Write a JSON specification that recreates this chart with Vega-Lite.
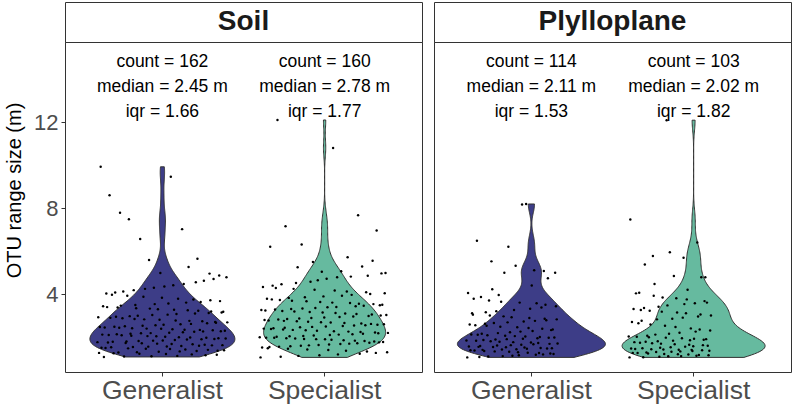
{
  "$schema": "https://vega.github.io/schema/vega-lite/v6.json",
  "padding": {"left": 4, "top": 1, "right": 2, "bottom": 2},
  "background": "white",
  "config": {
    "font": "Liberation Sans",
    "view": {"stroke": "#333333", "strokeWidth": 1},
    "axis": {"grid": false, "domain": false, "tickColor": "#333333", "tickSize": 4, "tickWidth": 1, "labelColor": "#4d4d4d", "titleColor": "#000000", "titleFontWeight": "normal", "labelFontSize": 22, "titleFontSize": 20},
    "axisX": {"labelFontSize": 26.5, "labelPadding": 1, "labelAngle": 0},
    "axisY": {"labelPadding": 3, "titlePadding": 9, "titleY": 148}
  },
  "datasets": {
    "stats": [
      {"habitat": "Soil", "type": "Generalist", "label": "count = 162\nmedian = 2.45 m\niqr = 1.66"},
      {"habitat": "Soil", "type": "Specialist", "label": "count = 160\nmedian = 2.78 m\niqr = 1.77"},
      {"habitat": "Plylloplane", "type": "Generalist", "label": "count = 114\nmedian = 2.11 m\niqr = 1.53"},
      {"habitat": "Plylloplane", "type": "Specialist", "label": "count = 103\nmedian = 2.02 m\niqr = 1.82"}
    ],
    "otu": [
      {"habitat":"Soil","type":"Generalist","size":1.76},{"habitat":"Soil","type":"Generalist","size":2.92},{"habitat":"Soil","type":"Generalist","size":1.26},{"habitat":"Soil","type":"Generalist","size":2.46},{"habitat":"Soil","type":"Generalist","size":9.92},{"habitat":"Soil","type":"Generalist","size":1.50},{"habitat":"Soil","type":"Generalist","size":2.11},{"habitat":"Soil","type":"Generalist","size":3.43},{"habitat":"Soil","type":"Generalist","size":1.07},
      {"habitat":"Soil","type":"Generalist","size":2.44},{"habitat":"Soil","type":"Generalist","size":1.49},{"habitat":"Soil","type":"Generalist","size":4.02},{"habitat":"Soil","type":"Generalist","size":3.39},{"habitat":"Soil","type":"Generalist","size":1.74},{"habitat":"Soil","type":"Generalist","size":2.09},{"habitat":"Soil","type":"Generalist","size":8.60},{"habitat":"Soil","type":"Generalist","size":2.89},
      {"habitat":"Soil","type":"Generalist","size":1.52},{"habitat":"Soil","type":"Generalist","size":3.97},{"habitat":"Soil","type":"Generalist","size":1.78},{"habitat":"Soil","type":"Generalist","size":1.24},{"habitat":"Soil","type":"Generalist","size":2.48},{"habitat":"Soil","type":"Generalist","size":4.07},{"habitat":"Soil","type":"Generalist","size":2.94},{"habitat":"Soil","type":"Generalist","size":2.13},
      {"habitat":"Soil","type":"Generalist","size":3.37},{"habitat":"Soil","type":"Generalist","size":1.28},{"habitat":"Soil","type":"Generalist","size":2.43},{"habitat":"Soil","type":"Generalist","size":7.78},{"habitat":"Soil","type":"Generalist","size":3.46},{"habitat":"Soil","type":"Generalist","size":2.08},{"habitat":"Soil","type":"Generalist","size":2.87},
      {"habitat":"Soil","type":"Generalist","size":4.12},{"habitat":"Soil","type":"Generalist","size":1.09},{"habitat":"Soil","type":"Generalist","size":2.50},{"habitat":"Soil","type":"Generalist","size":1.72},{"habitat":"Soil","type":"Generalist","size":1.79},{"habitat":"Soil","type":"Generalist","size":3.92},{"habitat":"Soil","type":"Generalist","size":1.47},{"habitat":"Soil","type":"Generalist","size":7.48},{"habitat":"Soil","type":"Generalist","size":2.97},{"habitat":"Soil","type":"Generalist","size":2.15},
      {"habitat":"Soil","type":"Generalist","size":2.06},{"habitat":"Soil","type":"Generalist","size":2.41},{"habitat":"Soil","type":"Generalist","size":1.53},{"habitat":"Soil","type":"Generalist","size":4.18},{"habitat":"Soil","type":"Generalist","size":2.84},{"habitat":"Soil","type":"Generalist","size":3.49},{"habitat":"Soil","type":"Generalist","size":3.34},
      {"habitat":"Soil","type":"Generalist","size":1.29},{"habitat":"Soil","type":"Generalist","size":2.99},{"habitat":"Soil","type":"Generalist","size":1.81},{"habitat":"Soil","type":"Generalist","size":1.22},{"habitat":"Soil","type":"Generalist","size":6.56},{"habitat":"Soil","type":"Generalist","size":2.17},{"habitat":"Soil","type":"Generalist","size":1.71},{"habitat":"Soil","type":"Generalist","size":2.52},
      {"habitat":"Soil","type":"Generalist","size":3.87},{"habitat":"Soil","type":"Generalist","size":2.82},{"habitat":"Soil","type":"Generalist","size":4.24},{"habitat":"Soil","type":"Generalist","size":1.45},{"habitat":"Soil","type":"Generalist","size":2.39},{"habitat":"Soil","type":"Generalist","size":2.04},{"habitat":"Soil","type":"Generalist","size":1.55},{"habitat":"Soil","type":"Generalist","size":5.58},{"habitat":"Soil","type":"Generalist","size":3.32},
      {"habitat":"Soil","type":"Generalist","size":2.18},{"habitat":"Soil","type":"Generalist","size":1.10},{"habitat":"Soil","type":"Generalist","size":3.02},{"habitat":"Soil","type":"Generalist","size":1.83},{"habitat":"Soil","type":"Generalist","size":4.29},{"habitat":"Soil","type":"Generalist","size":3.53},{"habitat":"Soil","type":"Generalist","size":2.55},
      {"habitat":"Soil","type":"Generalist","size":2.03},{"habitat":"Soil","type":"Generalist","size":1.69},{"habitat":"Soil","type":"Generalist","size":3.29},{"habitat":"Soil","type":"Generalist","size":1.31},{"habitat":"Soil","type":"Generalist","size":2.80},{"habitat":"Soil","type":"Generalist","size":4.98},{"habitat":"Soil","type":"Generalist","size":2.38},{"habitat":"Soil","type":"Generalist","size":3.83},{"habitat":"Soil","type":"Generalist","size":1.84},
      {"habitat":"Soil","type":"Generalist","size":2.57},{"habitat":"Soil","type":"Generalist","size":4.35},{"habitat":"Soil","type":"Generalist","size":2.01},{"habitat":"Soil","type":"Generalist","size":1.21},{"habitat":"Soil","type":"Generalist","size":1.56},{"habitat":"Soil","type":"Generalist","size":3.04},{"habitat":"Soil","type":"Generalist","size":3.56},{"habitat":"Soil","type":"Generalist","size":2.20},{"habitat":"Soil","type":"Generalist","size":1.44},{"habitat":"Soil","type":"Generalist","size":9.46},
      {"habitat":"Soil","type":"Generalist","size":1.67},{"habitat":"Soil","type":"Generalist","size":2.36},{"habitat":"Soil","type":"Generalist","size":4.41},{"habitat":"Soil","type":"Generalist","size":3.27},{"habitat":"Soil","type":"Generalist","size":1.86},{"habitat":"Soil","type":"Generalist","size":2.77},
      {"habitat":"Soil","type":"Generalist","size":3.07},{"habitat":"Soil","type":"Generalist","size":1.12},{"habitat":"Soil","type":"Generalist","size":3.78},{"habitat":"Soil","type":"Generalist","size":1.99},{"habitat":"Soil","type":"Generalist","size":1.33},{"habitat":"Soil","type":"Generalist","size":2.59},{"habitat":"Soil","type":"Generalist","size":1.58},{"habitat":"Soil","type":"Generalist","size":7.02},{"habitat":"Soil","type":"Generalist","size":2.22},
      {"habitat":"Soil","type":"Generalist","size":4.47},{"habitat":"Soil","type":"Generalist","size":2.34},{"habitat":"Soil","type":"Generalist","size":1.42},{"habitat":"Soil","type":"Generalist","size":3.60},{"habitat":"Soil","type":"Generalist","size":1.88},{"habitat":"Soil","type":"Generalist","size":3.24},{"habitat":"Soil","type":"Generalist","size":5.26},{"habitat":"Soil","type":"Generalist","size":2.75},
      {"habitat":"Soil","type":"Generalist","size":1.98},{"habitat":"Soil","type":"Generalist","size":2.61},{"habitat":"Soil","type":"Generalist","size":1.19},{"habitat":"Soil","type":"Generalist","size":1.66},{"habitat":"Soil","type":"Generalist","size":3.74},{"habitat":"Soil","type":"Generalist","size":2.24},{"habitat":"Soil","type":"Generalist","size":3.09},{"habitat":"Soil","type":"Generalist","size":4.55},
      {"habitat":"Soil","type":"Generalist","size":1.35},{"habitat":"Soil","type":"Generalist","size":5.64},{"habitat":"Soil","type":"Generalist","size":3.22},{"habitat":"Soil","type":"Generalist","size":1.59},{"habitat":"Soil","type":"Generalist","size":2.33},{"habitat":"Soil","type":"Generalist","size":3.63},{"habitat":"Soil","type":"Generalist","size":1.89},{"habitat":"Soil","type":"Generalist","size":2.73},
      {"habitat":"Soil","type":"Generalist","size":2.26},{"habitat":"Soil","type":"Generalist","size":4.62},{"habitat":"Soil","type":"Generalist","size":1.64},{"habitat":"Soil","type":"Generalist","size":1.15},{"habitat":"Soil","type":"Generalist","size":1.96},{"habitat":"Soil","type":"Generalist","size":2.64},{"habitat":"Soil","type":"Generalist","size":1.40},{"habitat":"Soil","type":"Generalist","size":3.12},{"habitat":"Soil","type":"Generalist","size":4.95},
      {"habitat":"Soil","type":"Generalist","size":3.71},{"habitat":"Soil","type":"Generalist","size":3.19},{"habitat":"Soil","type":"Generalist","size":1.61},{"habitat":"Soil","type":"Generalist","size":2.31},{"habitat":"Soil","type":"Generalist","size":4.70},{"habitat":"Soil","type":"Generalist","size":1.91},{"habitat":"Soil","type":"Generalist","size":2.70},
      {"habitat":"Soil","type":"Generalist","size":2.66},{"habitat":"Soil","type":"Generalist","size":1.17},{"habitat":"Soil","type":"Generalist","size":1.36},{"habitat":"Soil","type":"Generalist","size":1.94},{"habitat":"Soil","type":"Generalist","size":4.86},{"habitat":"Soil","type":"Generalist","size":3.67},{"habitat":"Soil","type":"Generalist","size":2.27},{"habitat":"Soil","type":"Generalist","size":3.14},
      {"habitat":"Soil","type":"Generalist","size":1.62},{"habitat":"Soil","type":"Generalist","size":3.17},{"habitat":"Soil","type":"Generalist","size":1.38},{"habitat":"Soil","type":"Generalist","size":2.29},{"habitat":"Soil","type":"Generalist","size":1.93},{"habitat":"Soil","type":"Generalist","size":4.78},{"habitat":"Soil","type":"Generalist","size":2.68},

      {"habitat":"Soil","type":"Specialist","size":1.99},{"habitat":"Soil","type":"Specialist","size":1.05},{"habitat":"Soil","type":"Specialist","size":3.26},{"habitat":"Soil","type":"Specialist","size":1.51},{"habitat":"Soil","type":"Specialist","size":4.33},{"habitat":"Soil","type":"Specialist","size":2.39},{"habitat":"Soil","type":"Specialist","size":2.79},
      {"habitat":"Soil","type":"Specialist","size":3.23},{"habitat":"Soil","type":"Specialist","size":1.97},{"habitat":"Soil","type":"Specialist","size":3.78},{"habitat":"Soil","type":"Specialist","size":1.48},{"habitat":"Soil","type":"Specialist","size":2.77},{"habitat":"Soil","type":"Specialist","size":1.53},{"habitat":"Soil","type":"Specialist","size":6.20},{"habitat":"Soil","type":"Specialist","size":2.37},{"habitat":"Soil","type":"Specialist","size":3.75},
      {"habitat":"Soil","type":"Specialist","size":4.39},{"habitat":"Soil","type":"Specialist","size":2.41},{"habitat":"Soil","type":"Specialist","size":1.96},{"habitat":"Soil","type":"Specialist","size":3.28},{"habitat":"Soil","type":"Specialist","size":4.28},{"habitat":"Soil","type":"Specialist","size":2.01},{"habitat":"Soil","type":"Specialist","size":12.10},{"habitat":"Soil","type":"Specialist","size":2.81},
      {"habitat":"Soil","type":"Specialist","size":1.55},{"habitat":"Soil","type":"Specialist","size":3.72},{"habitat":"Soil","type":"Specialist","size":1.08},{"habitat":"Soil","type":"Specialist","size":4.45},{"habitat":"Soil","type":"Specialist","size":3.21},{"habitat":"Soil","type":"Specialist","size":2.35},{"habitat":"Soil","type":"Specialist","size":2.75},
      {"habitat":"Soil","type":"Specialist","size":2.43},{"habitat":"Soil","type":"Specialist","size":7.15},{"habitat":"Soil","type":"Specialist","size":1.94},{"habitat":"Soil","type":"Specialist","size":2.84},{"habitat":"Soil","type":"Specialist","size":1.45},{"habitat":"Soil","type":"Specialist","size":3.82},{"habitat":"Soil","type":"Specialist","size":2.03},{"habitat":"Soil","type":"Specialist","size":1.57},{"habitat":"Soil","type":"Specialist","size":3.30},
      {"habitat":"Soil","type":"Specialist","size":3.69},{"habitat":"Soil","type":"Specialist","size":2.33},{"habitat":"Soil","type":"Specialist","size":4.24},{"habitat":"Soil","type":"Specialist","size":3.19},{"habitat":"Soil","type":"Specialist","size":1.93},{"habitat":"Soil","type":"Specialist","size":4.51},{"habitat":"Soil","type":"Specialist","size":2.73},
      {"habitat":"Soil","type":"Specialist","size":5.25},{"habitat":"Soil","type":"Specialist","size":1.12},{"habitat":"Soil","type":"Specialist","size":2.86},{"habitat":"Soil","type":"Specialist","size":2.45},{"habitat":"Soil","type":"Specialist","size":1.59},{"habitat":"Soil","type":"Specialist","size":6.30},{"habitat":"Soil","type":"Specialist","size":3.33},{"habitat":"Soil","type":"Specialist","size":2.05},
      {"habitat":"Soil","type":"Specialist","size":1.91},{"habitat":"Soil","type":"Specialist","size":3.85},{"habitat":"Soil","type":"Specialist","size":2.31},{"habitat":"Soil","type":"Specialist","size":3.66},{"habitat":"Soil","type":"Specialist","size":1.42},{"habitat":"Soil","type":"Specialist","size":2.71},{"habitat":"Soil","type":"Specialist","size":1.61},{"habitat":"Soil","type":"Specialist","size":3.16},{"habitat":"Soil","type":"Specialist","size":4.57},
      {"habitat":"Soil","type":"Specialist","size":2.88},{"habitat":"Soil","type":"Specialist","size":2.47},{"habitat":"Soil","type":"Specialist","size":5.49},{"habitat":"Soil","type":"Specialist","size":2.07},{"habitat":"Soil","type":"Specialist","size":4.20},{"habitat":"Soil","type":"Specialist","size":3.35},{"habitat":"Soil","type":"Specialist","size":1.90},
      {"habitat":"Soil","type":"Specialist","size":2.29},{"habitat":"Soil","type":"Specialist","size":4.64},{"habitat":"Soil","type":"Specialist","size":1.63},{"habitat":"Soil","type":"Specialist","size":1.15},{"habitat":"Soil","type":"Specialist","size":3.63},{"habitat":"Soil","type":"Specialist","size":2.69},{"habitat":"Soil","type":"Specialist","size":5.04},{"habitat":"Soil","type":"Specialist","size":3.14},
      {"habitat":"Soil","type":"Specialist","size":3.89},{"habitat":"Soil","type":"Specialist","size":2.91},{"habitat":"Soil","type":"Specialist","size":1.89},{"habitat":"Soil","type":"Specialist","size":2.49},{"habitat":"Soil","type":"Specialist","size":4.71},{"habitat":"Soil","type":"Specialist","size":3.38},{"habitat":"Soil","type":"Specialist","size":1.39},{"habitat":"Soil","type":"Specialist","size":1.65},{"habitat":"Soil","type":"Specialist","size":2.09},
      {"habitat":"Soil","type":"Specialist","size":2.67},{"habitat":"Soil","type":"Specialist","size":1.87},{"habitat":"Soil","type":"Specialist","size":3.60},{"habitat":"Soil","type":"Specialist","size":10.80},{"habitat":"Soil","type":"Specialist","size":2.27},{"habitat":"Soil","type":"Specialist","size":4.16},{"habitat":"Soil","type":"Specialist","size":3.12},
      {"habitat":"Soil","type":"Specialist","size":3.40},{"habitat":"Soil","type":"Specialist","size":4.78},{"habitat":"Soil","type":"Specialist","size":1.19},{"habitat":"Soil","type":"Specialist","size":2.11},{"habitat":"Soil","type":"Specialist","size":2.93},{"habitat":"Soil","type":"Specialist","size":1.67},{"habitat":"Soil","type":"Specialist","size":5.06},{"habitat":"Soil","type":"Specialist","size":3.92},{"habitat":"Soil","type":"Specialist","size":2.51},
      {"habitat":"Soil","type":"Specialist","size":1.85},{"habitat":"Soil","type":"Specialist","size":2.65},{"habitat":"Soil","type":"Specialist","size":3.09},{"habitat":"Soil","type":"Specialist","size":1.36},{"habitat":"Soil","type":"Specialist","size":4.12},{"habitat":"Soil","type":"Specialist","size":5.71},{"habitat":"Soil","type":"Specialist","size":2.25},{"habitat":"Soil","type":"Specialist","size":1.69},{"habitat":"Soil","type":"Specialist","size":3.58},
      {"habitat":"Soil","type":"Specialist","size":4.81},{"habitat":"Soil","type":"Specialist","size":3.96},{"habitat":"Soil","type":"Specialist","size":2.13},{"habitat":"Soil","type":"Specialist","size":2.95},{"habitat":"Soil","type":"Specialist","size":2.53},{"habitat":"Soil","type":"Specialist","size":1.83},{"habitat":"Soil","type":"Specialist","size":3.43},
      {"habitat":"Soil","type":"Specialist","size":3.07},{"habitat":"Soil","type":"Specialist","size":1.71},{"habitat":"Soil","type":"Specialist","size":7.67},{"habitat":"Soil","type":"Specialist","size":3.55},{"habitat":"Soil","type":"Specialist","size":1.22},{"habitat":"Soil","type":"Specialist","size":2.23},{"habitat":"Soil","type":"Specialist","size":2.63},{"habitat":"Soil","type":"Specialist","size":5.28},
      {"habitat":"Soil","type":"Specialist","size":2.15},{"habitat":"Soil","type":"Specialist","size":3.45},{"habitat":"Soil","type":"Specialist","size":1.81},{"habitat":"Soil","type":"Specialist","size":2.55},{"habitat":"Soil","type":"Specialist","size":4.08},{"habitat":"Soil","type":"Specialist","size":1.32},{"habitat":"Soil","type":"Specialist","size":4.85},{"habitat":"Soil","type":"Specialist","size":2.98},{"habitat":"Soil","type":"Specialist","size":1.73},
      {"habitat":"Soil","type":"Specialist","size":4.00},{"habitat":"Soil","type":"Specialist","size":2.61},{"habitat":"Soil","type":"Specialist","size":3.05},{"habitat":"Soil","type":"Specialist","size":5.55},{"habitat":"Soil","type":"Specialist","size":3.53},{"habitat":"Soil","type":"Specialist","size":1.79},{"habitat":"Soil","type":"Specialist","size":2.21},
      {"habitat":"Soil","type":"Specialist","size":1.26},{"habitat":"Soil","type":"Specialist","size":6.96},{"habitat":"Soil","type":"Specialist","size":2.57},{"habitat":"Soil","type":"Specialist","size":2.17},{"habitat":"Soil","type":"Specialist","size":1.75},{"habitat":"Soil","type":"Specialist","size":3.48},{"habitat":"Soil","type":"Specialist","size":3.00},{"habitat":"Soil","type":"Specialist","size":4.96},
      {"habitat":"Soil","type":"Specialist","size":3.50},{"habitat":"Soil","type":"Specialist","size":1.77},{"habitat":"Soil","type":"Specialist","size":2.59},{"habitat":"Soil","type":"Specialist","size":4.04},{"habitat":"Soil","type":"Specialist","size":4.98},{"habitat":"Soil","type":"Specialist","size":3.02},{"habitat":"Soil","type":"Specialist","size":1.29},{"habitat":"Soil","type":"Specialist","size":2.19},

      {"habitat":"Plylloplane","type":"Generalist","size":1.84},{"habitat":"Plylloplane","type":"Generalist","size":1.05},{"habitat":"Plylloplane","type":"Generalist","size":4.05},{"habitat":"Plylloplane","type":"Generalist","size":1.56},{"habitat":"Plylloplane","type":"Generalist","size":2.58},{"habitat":"Plylloplane","type":"Generalist","size":1.38},{"habitat":"Plylloplane","type":"Generalist","size":2.12},{"habitat":"Plylloplane","type":"Generalist","size":3.10},
      {"habitat":"Plylloplane","type":"Generalist","size":3.04},{"habitat":"Plylloplane","type":"Generalist","size":3.78},{"habitat":"Plylloplane","type":"Generalist","size":1.37},{"habitat":"Plylloplane","type":"Generalist","size":2.55},{"habitat":"Plylloplane","type":"Generalist","size":1.82},{"habitat":"Plylloplane","type":"Generalist","size":6.48},{"habitat":"Plylloplane","type":"Generalist","size":2.10},{"habitat":"Plylloplane","type":"Generalist","size":1.54},
      {"habitat":"Plylloplane","type":"Generalist","size":1.07},{"habitat":"Plylloplane","type":"Generalist","size":1.58},{"habitat":"Plylloplane","type":"Generalist","size":3.86},{"habitat":"Plylloplane","type":"Generalist","size":2.15},{"habitat":"Plylloplane","type":"Generalist","size":1.40},{"habitat":"Plylloplane","type":"Generalist","size":1.86},{"habitat":"Plylloplane","type":"Generalist","size":1.35},{"habitat":"Plylloplane","type":"Generalist","size":2.62},{"habitat":"Plylloplane","type":"Generalist","size":3.15},
      {"habitat":"Plylloplane","type":"Generalist","size":2.52},{"habitat":"Plylloplane","type":"Generalist","size":2.08},{"habitat":"Plylloplane","type":"Generalist","size":1.09},{"habitat":"Plylloplane","type":"Generalist","size":3.70},{"habitat":"Plylloplane","type":"Generalist","size":3.00},{"habitat":"Plylloplane","type":"Generalist","size":1.80},{"habitat":"Plylloplane","type":"Generalist","size":5.52},
      {"habitat":"Plylloplane","type":"Generalist","size":4.22},{"habitat":"Plylloplane","type":"Generalist","size":1.53},{"habitat":"Plylloplane","type":"Generalist","size":2.65},{"habitat":"Plylloplane","type":"Generalist","size":1.33},{"habitat":"Plylloplane","type":"Generalist","size":1.88},{"habitat":"Plylloplane","type":"Generalist","size":3.20},{"habitat":"Plylloplane","type":"Generalist","size":1.60},{"habitat":"Plylloplane","type":"Generalist","size":2.18},{"habitat":"Plylloplane","type":"Generalist","size":3.95},
      {"habitat":"Plylloplane","type":"Generalist","size":1.78},{"habitat":"Plylloplane","type":"Generalist","size":2.48},{"habitat":"Plylloplane","type":"Generalist","size":3.64},{"habitat":"Plylloplane","type":"Generalist","size":1.42},{"habitat":"Plylloplane","type":"Generalist","size":1.11},{"habitat":"Plylloplane","type":"Generalist","size":2.96},{"habitat":"Plylloplane","type":"Generalist","size":4.99},{"habitat":"Plylloplane","type":"Generalist","size":2.06},
      {"habitat":"Plylloplane","type":"Generalist","size":1.52},{"habitat":"Plylloplane","type":"Generalist","size":1.90},{"habitat":"Plylloplane","type":"Generalist","size":2.68},{"habitat":"Plylloplane","type":"Generalist","size":6.20},{"habitat":"Plylloplane","type":"Generalist","size":1.31},{"habitat":"Plylloplane","type":"Generalist","size":2.22},{"habitat":"Plylloplane","type":"Generalist","size":1.62},
      {"habitat":"Plylloplane","type":"Generalist","size":2.92},{"habitat":"Plylloplane","type":"Generalist","size":1.13},{"habitat":"Plylloplane","type":"Generalist","size":1.76},{"habitat":"Plylloplane","type":"Generalist","size":3.26},{"habitat":"Plylloplane","type":"Generalist","size":2.04},{"habitat":"Plylloplane","type":"Generalist","size":5.32},{"habitat":"Plylloplane","type":"Generalist","size":1.43},{"habitat":"Plylloplane","type":"Generalist","size":2.45},{"habitat":"Plylloplane","type":"Generalist","size":1.29},
      {"habitat":"Plylloplane","type":"Generalist","size":1.15},{"habitat":"Plylloplane","type":"Generalist","size":3.60},{"habitat":"Plylloplane","type":"Generalist","size":2.25},{"habitat":"Plylloplane","type":"Generalist","size":1.64},{"habitat":"Plylloplane","type":"Generalist","size":8.17},{"habitat":"Plylloplane","type":"Generalist","size":1.92},{"habitat":"Plylloplane","type":"Generalist","size":2.72},{"habitat":"Plylloplane","type":"Generalist","size":1.51},
      {"habitat":"Plylloplane","type":"Generalist","size":2.02},{"habitat":"Plylloplane","type":"Generalist","size":8.19},{"habitat":"Plylloplane","type":"Generalist","size":1.45},{"habitat":"Plylloplane","type":"Generalist","size":1.27},{"habitat":"Plylloplane","type":"Generalist","size":2.42},{"habitat":"Plylloplane","type":"Generalist","size":2.88},{"habitat":"Plylloplane","type":"Generalist","size":3.31},{"habitat":"Plylloplane","type":"Generalist","size":1.74},{"habitat":"Plylloplane","type":"Generalist","size":4.40},
      {"habitat":"Plylloplane","type":"Generalist","size":2.28},{"habitat":"Plylloplane","type":"Generalist","size":1.66},{"habitat":"Plylloplane","type":"Generalist","size":5.11},{"habitat":"Plylloplane","type":"Generalist","size":2.75},{"habitat":"Plylloplane","type":"Generalist","size":1.17},{"habitat":"Plylloplane","type":"Generalist","size":3.57},{"habitat":"Plylloplane","type":"Generalist","size":1.94},
      {"habitat":"Plylloplane","type":"Generalist","size":1.72},{"habitat":"Plylloplane","type":"Generalist","size":1.25},{"habitat":"Plylloplane","type":"Generalist","size":2.00},{"habitat":"Plylloplane","type":"Generalist","size":1.49},{"habitat":"Plylloplane","type":"Generalist","size":3.37},{"habitat":"Plylloplane","type":"Generalist","size":2.38},{"habitat":"Plylloplane","type":"Generalist","size":1.19},{"habitat":"Plylloplane","type":"Generalist","size":5.07},{"habitat":"Plylloplane","type":"Generalist","size":2.85},
      {"habitat":"Plylloplane","type":"Generalist","size":3.50},{"habitat":"Plylloplane","type":"Generalist","size":2.78},{"habitat":"Plylloplane","type":"Generalist","size":1.46},{"habitat":"Plylloplane","type":"Generalist","size":4.73},{"habitat":"Plylloplane","type":"Generalist","size":1.96},{"habitat":"Plylloplane","type":"Generalist","size":1.68},{"habitat":"Plylloplane","type":"Generalist","size":1.23},{"habitat":"Plylloplane","type":"Generalist","size":2.32},
      {"habitat":"Plylloplane","type":"Generalist","size":1.48},{"habitat":"Plylloplane","type":"Generalist","size":2.35},{"habitat":"Plylloplane","type":"Generalist","size":1.21},{"habitat":"Plylloplane","type":"Generalist","size":1.98},{"habitat":"Plylloplane","type":"Generalist","size":4.99},{"habitat":"Plylloplane","type":"Generalist","size":3.43},{"habitat":"Plylloplane","type":"Generalist","size":2.82},{"habitat":"Plylloplane","type":"Generalist","size":1.70},

      {"habitat":"Plylloplane","type":"Specialist","size":2.02},{"habitat":"Plylloplane","type":"Specialist","size":1.05},{"habitat":"Plylloplane","type":"Specialist","size":7.47},{"habitat":"Plylloplane","type":"Specialist","size":1.46},{"habitat":"Plylloplane","type":"Specialist","size":2.70},{"habitat":"Plylloplane","type":"Specialist","size":1.26},{"habitat":"Plylloplane","type":"Specialist","size":3.30},{"habitat":"Plylloplane","type":"Specialist","size":1.76},
      {"habitat":"Plylloplane","type":"Specialist","size":1.44},{"habitat":"Plylloplane","type":"Specialist","size":4.03},{"habitat":"Plylloplane","type":"Specialist","size":2.01},{"habitat":"Plylloplane","type":"Specialist","size":1.25},{"habitat":"Plylloplane","type":"Specialist","size":2.64},{"habitat":"Plylloplane","type":"Specialist","size":4.06},{"habitat":"Plylloplane","type":"Specialist","size":1.73},{"habitat":"Plylloplane","type":"Specialist","size":3.26},
      {"habitat":"Plylloplane","type":"Specialist","size":2.76},{"habitat":"Plylloplane","type":"Specialist","size":1.48},{"habitat":"Plylloplane","type":"Specialist","size":1.06},{"habitat":"Plylloplane","type":"Specialist","size":3.35},{"habitat":"Plylloplane","type":"Specialist","size":5.37},{"habitat":"Plylloplane","type":"Specialist","size":1.78},{"habitat":"Plylloplane","type":"Specialist","size":1.28},{"habitat":"Plylloplane","type":"Specialist","size":2.06},
      {"habitat":"Plylloplane","type":"Specialist","size":1.23},{"habitat":"Plylloplane","type":"Specialist","size":1.99},{"habitat":"Plylloplane","type":"Specialist","size":3.22},{"habitat":"Plylloplane","type":"Specialist","size":2.58},{"habitat":"Plylloplane","type":"Specialist","size":1.43},{"habitat":"Plylloplane","type":"Specialist","size":1.71},{"habitat":"Plylloplane","type":"Specialist","size":5.77},{"habitat":"Plylloplane","type":"Specialist","size":3.92},
      {"habitat":"Plylloplane","type":"Specialist","size":4.47},{"habitat":"Plylloplane","type":"Specialist","size":2.11},{"habitat":"Plylloplane","type":"Specialist","size":1.30},{"habitat":"Plylloplane","type":"Specialist","size":2.82},{"habitat":"Plylloplane","type":"Specialist","size":1.80},{"habitat":"Plylloplane","type":"Specialist","size":3.41},{"habitat":"Plylloplane","type":"Specialist","size":1.08},{"habitat":"Plylloplane","type":"Specialist","size":1.50},
      {"habitat":"Plylloplane","type":"Specialist","size":1.69},{"habitat":"Plylloplane","type":"Specialist","size":3.18},{"habitat":"Plylloplane","type":"Specialist","size":3.84},{"habitat":"Plylloplane","type":"Specialist","size":1.42},{"habitat":"Plylloplane","type":"Specialist","size":1.21},{"habitat":"Plylloplane","type":"Specialist","size":2.52},{"habitat":"Plylloplane","type":"Specialist","size":1.97},{"habitat":"Plylloplane","type":"Specialist","size":12.09},
      {"habitat":"Plylloplane","type":"Specialist","size":3.47},{"habitat":"Plylloplane","type":"Specialist","size":1.10},{"habitat":"Plylloplane","type":"Specialist","size":2.15},{"habitat":"Plylloplane","type":"Specialist","size":5.94},{"habitat":"Plylloplane","type":"Specialist","size":1.52},{"habitat":"Plylloplane","type":"Specialist","size":1.31},{"habitat":"Plylloplane","type":"Specialist","size":2.85},
      {"habitat":"Plylloplane","type":"Specialist","size":1.83},{"habitat":"Plylloplane","type":"Specialist","size":4.84},{"habitat":"Plylloplane","type":"Specialist","size":1.66},{"habitat":"Plylloplane","type":"Specialist","size":2.46},{"habitat":"Plylloplane","type":"Specialist","size":3.80},{"habitat":"Plylloplane","type":"Specialist","size":3.14},{"habitat":"Plylloplane","type":"Specialist","size":1.20},{"habitat":"Plylloplane","type":"Specialist","size":1.41},
      {"habitat":"Plylloplane","type":"Specialist","size":2.20},{"habitat":"Plylloplane","type":"Specialist","size":1.33},{"habitat":"Plylloplane","type":"Specialist","size":1.11},{"habitat":"Plylloplane","type":"Specialist","size":1.94},{"habitat":"Plylloplane","type":"Specialist","size":2.90},{"habitat":"Plylloplane","type":"Specialist","size":5.69},{"habitat":"Plylloplane","type":"Specialist","size":3.53},{"habitat":"Plylloplane","type":"Specialist","size":1.55},
      {"habitat":"Plylloplane","type":"Specialist","size":3.10},{"habitat":"Plylloplane","type":"Specialist","size":3.75},{"habitat":"Plylloplane","type":"Specialist","size":4.20},{"habitat":"Plylloplane","type":"Specialist","size":1.18},{"habitat":"Plylloplane","type":"Specialist","size":1.64},{"habitat":"Plylloplane","type":"Specialist","size":1.85},{"habitat":"Plylloplane","type":"Specialist","size":2.40},{"habitat":"Plylloplane","type":"Specialist","size":1.40},
      {"habitat":"Plylloplane","type":"Specialist","size":1.35},{"habitat":"Plylloplane","type":"Specialist","size":1.57},{"habitat":"Plylloplane","type":"Specialist","size":1.92},{"habitat":"Plylloplane","type":"Specialist","size":3.57},{"habitat":"Plylloplane","type":"Specialist","size":2.25},{"habitat":"Plylloplane","type":"Specialist","size":1.13},{"habitat":"Plylloplane","type":"Specialist","size":6.40},{"habitat":"Plylloplane","type":"Specialist","size":2.95},
      {"habitat":"Plylloplane","type":"Specialist","size":1.16},{"habitat":"Plylloplane","type":"Specialist","size":2.35},{"habitat":"Plylloplane","type":"Specialist","size":3.05},{"habitat":"Plylloplane","type":"Specialist","size":4.78},{"habitat":"Plylloplane","type":"Specialist","size":1.38},{"habitat":"Plylloplane","type":"Specialist","size":1.62},{"habitat":"Plylloplane","type":"Specialist","size":1.87},{"habitat":"Plylloplane","type":"Specialist","size":3.67},
      {"habitat":"Plylloplane","type":"Specialist","size":4.78},{"habitat":"Plylloplane","type":"Specialist","size":1.90},{"habitat":"Plylloplane","type":"Specialist","size":3.60},{"habitat":"Plylloplane","type":"Specialist","size":1.59},{"habitat":"Plylloplane","type":"Specialist","size":1.15},{"habitat":"Plylloplane","type":"Specialist","size":1.36},{"habitat":"Plylloplane","type":"Specialist","size":2.30},{"habitat":"Plylloplane","type":"Specialist","size":3.00}
    ]
  },
  "hconcat": [
    {
      "vconcat": [
        {
          "data": {"values": [{"habitat": "Soil"}]},
          "width": 357, "height": 40,
          "view": {"stroke": "#333333", "strokeWidth": 1},
          "mark": {"type": "text", "fontSize": 28, "fontWeight": "bold", "color": "#1a1a1a"},
          "encoding": {"x": {"field": "habitat", "type": "nominal", "axis": null}, "text": {"field": "habitat", "type": "nominal"}}
        },
        {
          "width": 357, "height": 330,
          "data": {"name": "otu"},
          "transform": [{"filter": "datum.habitat === 'Soil'"}],
          "resolve": {"scale": {"x": "independent"}},
          "layer": [
            {
              "transform": [{"filter": "datum.type === 'Generalist'"}, {"density": "size", "groupby": ["type"], "bandwidth": 0.40, "steps": 200, "as": ["value", "density"]}],
              "mark": {"type": "area", "orient": "horizontal", "fill": "#3D3D87", "stroke": "#333333", "strokeWidth": 1, "opacity": 1},
              "encoding": {
                "y": {"field": "value", "type": "quantitative", "scale": {"domain": [0.37, 15.73], "nice": false, "zero": false}, "axis": {"values": [4, 8, 12], "title": "OTU range size (m)"}},
                "x": {"field": "density", "type": "quantitative", "stack": "center", "impute": null, "scale": {"nice": false, "zero": false, "range": [24.9, 169.9]}, "axis": null},
                "detail": {"field": "type"}
              }
            },
            {
              "transform": [{"filter": "datum.type === 'Specialist'"}, {"density": "size", "groupby": ["type"], "bandwidth": 0.43, "steps": 200, "as": ["value", "density"]}],
              "mark": {"type": "area", "orient": "horizontal", "fill": "#66BA9F", "stroke": "#333333", "strokeWidth": 1, "opacity": 1},
              "encoding": {
                "y": {"field": "value", "type": "quantitative", "scale": {"domain": [0.37, 15.73], "nice": false, "zero": false}, "axis": {"values": [4, 8, 12], "title": "OTU range size (m)"}},
                "x": {"field": "density", "type": "quantitative", "stack": "center", "impute": null, "scale": {"nice": false, "zero": false, "range": [198.6, 320.6]}, "axis": null},
                "detail": {"field": "type"}
              }
            },
            {
              "transform": [{"window": [{"op": "row_number", "as": "order"}], "groupby": ["type"]}],
              "mark": {"type": "circle", "size": 6, "color": "black", "opacity": 1},
              "encoding": {
                "x": {"field": "type", "type": "nominal", "scale": {"type": "band", "domain": ["Generalist", "Specialist"], "paddingInner": 0.2, "paddingOuter": 0.2}, "axis": {"title": null}},
                "xOffset": {"field": "order", "type": "quantitative", "scale": {"zero": false, "nice": false}},
                "y": {"field": "size", "type": "quantitative", "scale": {"domain": [0.37, 15.73], "nice": false, "zero": false}, "axis": {"values": [4, 8, 12], "title": "OTU range size (m)"}}
              }
            },
            {
              "data": {"name": "stats"},
              "transform": [{"filter": "datum.habitat === 'Soil'"}],
              "mark": {"type": "text", "fontSize": 17.5, "lineBreak": "\n", "lineHeight": 25, "baseline": "middle", "align": "center", "color": "black"},
              "encoding": {
                "x": {"field": "type", "type": "nominal", "scale": {"type": "band", "domain": ["Generalist", "Specialist"], "paddingInner": 0.2, "paddingOuter": 0.2}, "axis": null},
                "y": {"datum": 14.8, "type": "quantitative", "scale": {"domain": [0.37, 15.73], "nice": false, "zero": false}, "axis": {"values": [4, 8, 12], "title": "OTU range size (m)"}},
                "text": {"field": "label", "type": "nominal"}
              }
            }
          ]
        }
      ],
      "spacing": 0,
      "bounds": "flush"
    },
    {
      "vconcat": [
        {
          "data": {"values": [{"habitat": "Plylloplane"}]},
          "width": 357, "height": 40,
          "view": {"stroke": "#333333", "strokeWidth": 1},
          "mark": {"type": "text", "fontSize": 28, "fontWeight": "bold", "color": "#1a1a1a"},
          "encoding": {"x": {"field": "habitat", "type": "nominal", "axis": null}, "text": {"field": "habitat", "type": "nominal"}}
        },
        {
          "width": 357, "height": 330,
          "data": {"name": "otu"},
          "transform": [{"filter": "datum.habitat === 'Plylloplane'"}],
          "resolve": {"scale": {"x": "independent"}},
          "layer": [
            {
              "transform": [{"filter": "datum.type === 'Generalist'"}, {"density": "size", "groupby": ["type"], "bandwidth": 0.40, "steps": 200, "as": ["value", "density"]}],
              "mark": {"type": "area", "orient": "horizontal", "fill": "#3D3D87", "stroke": "#333333", "strokeWidth": 1, "opacity": 1},
              "encoding": {
                "y": {"field": "value", "type": "quantitative", "scale": {"domain": [0.37, 15.73], "nice": false, "zero": false}, "axis": null},
                "x": {"field": "density", "type": "quantitative", "stack": "center", "impute": null, "scale": {"nice": false, "zero": false, "range": [23.4, 171.4]}, "axis": null},
                "detail": {"field": "type"}
              }
            },
            {
              "transform": [{"filter": "datum.type === 'Specialist'"}, {"density": "size", "groupby": ["type"], "bandwidth": 0.485, "steps": 200, "as": ["value", "density"]}],
              "mark": {"type": "area", "orient": "horizontal", "fill": "#66BA9F", "stroke": "#333333", "strokeWidth": 1, "opacity": 1},
              "encoding": {
                "y": {"field": "value", "type": "quantitative", "scale": {"domain": [0.37, 15.73], "nice": false, "zero": false}, "axis": null},
                "x": {"field": "density", "type": "quantitative", "stack": "center", "impute": null, "scale": {"nice": false, "zero": false, "range": [188.1, 331.1]}, "axis": null},
                "detail": {"field": "type"}
              }
            },
            {
              "transform": [{"window": [{"op": "row_number", "as": "order"}], "groupby": ["type"]}],
              "mark": {"type": "circle", "size": 6, "color": "black", "opacity": 1},
              "encoding": {
                "x": {"field": "type", "type": "nominal", "scale": {"type": "band", "domain": ["Generalist", "Specialist"], "paddingInner": 0.2, "paddingOuter": 0.2}, "axis": {"title": null}},
                "xOffset": {"field": "order", "type": "quantitative", "scale": {"zero": false, "nice": false}},
                "y": {"field": "size", "type": "quantitative", "scale": {"domain": [0.37, 15.73], "nice": false, "zero": false}, "axis": null}
              }
            },
            {
              "data": {"name": "stats"},
              "transform": [{"filter": "datum.habitat === 'Plylloplane'"}],
              "mark": {"type": "text", "fontSize": 17.5, "lineBreak": "\n", "lineHeight": 25, "baseline": "middle", "align": "center", "color": "black"},
              "encoding": {
                "x": {"field": "type", "type": "nominal", "scale": {"type": "band", "domain": ["Generalist", "Specialist"], "paddingInner": 0.2, "paddingOuter": 0.2}, "axis": null},
                "y": {"datum": 14.8, "type": "quantitative", "scale": {"domain": [0.37, 15.73], "nice": false, "zero": false}, "axis": null},
                "text": {"field": "label", "type": "nominal"}
              }
            }
          ]
        }
      ],
      "spacing": 0,
      "bounds": "flush"
    }
  ],
  "spacing": 10
}
